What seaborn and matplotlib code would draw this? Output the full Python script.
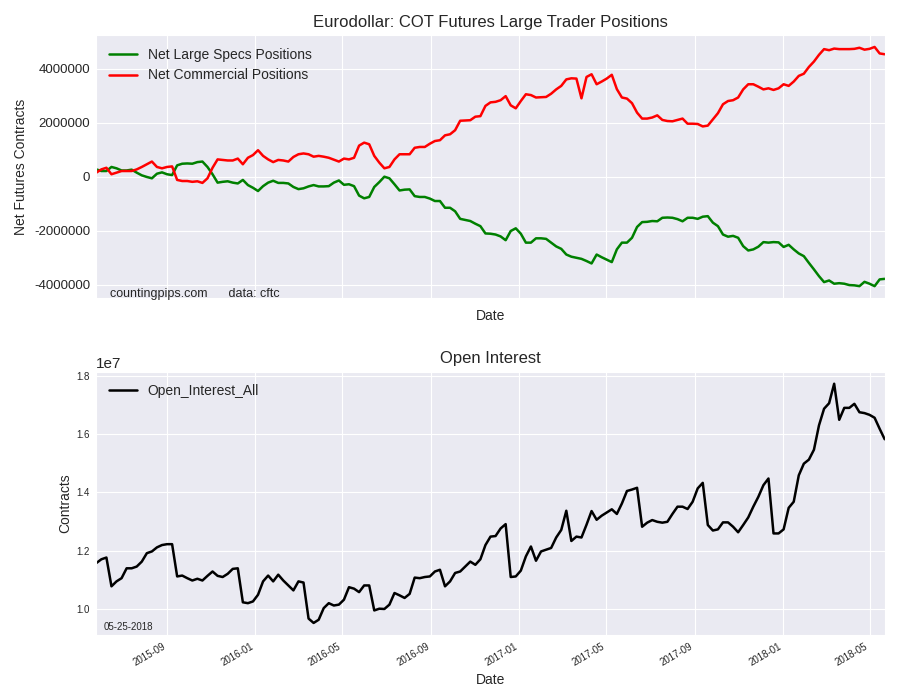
import numpy as np
import pandas as pd
import seaborn as sns
import matplotlib
matplotlib.use('Agg')
import matplotlib.pyplot as plt
import matplotlib.dates as mdates

# weekly COT report dates (tuesdays)
dates = pd.date_range('2015-05-26', periods=157, freq='7D')

# net positions, millions of contracts
specs_mm = [0.27, 0.21, 0.21, 0.36, 0.31, 0.23, 0.23, 0.26, 0.15, 0.05, -0.01, -0.06, 0.11, 0.16, 0.09, 0.06,
            0.42, 0.48, 0.49, 0.48, 0.54, 0.56, 0.36, 0.09, -0.22, -0.19, -0.17,
            -0.22, -0.25, -0.12, -0.31, -0.41, -0.53, -0.35, -0.22, -0.15, -0.23, -0.23, -0.25, -0.38, -0.46,
            -0.43, -0.36, -0.31, -0.36, -0.36, -0.35, -0.22, -0.14, -0.30, -0.28, -0.35, -0.70,
            -0.80, -0.75, -0.38, -0.20, 0.00, -0.06, -0.28, -0.51, -0.48, -0.47, -0.72, -0.75, -0.75, -0.81,
            -0.90, -0.90, -1.15, -1.15, -1.28, -1.56, -1.60, -1.64, -1.74, -1.83, -2.10, -2.11,
            -2.14, -2.21, -2.35, -2.01, -1.91, -2.11, -2.44, -2.44, -2.28, -2.28, -2.30, -2.44, -2.58, -2.67,
            -2.88, -2.96, -3.00, -3.04, -3.12, -3.21, -2.88, -2.98, -3.07, -3.16, -2.69, -2.44,
            -2.44, -2.26, -1.86, -1.68, -1.67, -1.64, -1.65, -1.52, -1.51, -1.52, -1.57, -1.65, -1.52, -1.52,
            -1.56, -1.48, -1.46, -1.70, -1.83, -2.14, -2.22, -2.19, -2.26, -2.57, -2.73, -2.69,
            -2.59, -2.42, -2.44, -2.42, -2.43, -2.60, -2.52, -2.69, -2.84, -2.94, -3.19, -3.43, -3.68, -3.90,
            -3.84, -3.96, -3.94, -3.96, -4.01, -4.02, -4.05, -3.89, -3.96, -4.05, -3.80, -3.78]

comm_mm = [0.15, 0.27, 0.33, 0.09, 0.15, 0.21, 0.21, 0.21, 0.27, 0.36, 0.46, 0.56, 0.36, 0.31, 0.36, 0.38,
           -0.12, -0.16, -0.16, -0.19, -0.17, -0.23, -0.06, 0.33, 0.64, 0.62, 0.60,
           0.60, 0.67, 0.46, 0.70, 0.80, 0.98, 0.77, 0.64, 0.54, 0.62, 0.60, 0.56, 0.73, 0.83,
           0.86, 0.83, 0.74, 0.77, 0.74, 0.70, 0.63, 0.56, 0.67, 0.64, 0.70, 1.15,
           1.26, 1.20, 0.77, 0.52, 0.31, 0.36, 0.64, 0.83, 0.83, 0.83, 1.07, 1.10, 1.10, 1.22,
           1.32, 1.35, 1.53, 1.57, 1.72, 2.07, 2.08, 2.09, 2.22, 2.24, 2.62, 2.75,
           2.77, 2.83, 2.98, 2.64, 2.53, 2.80, 3.05, 3.02, 2.93, 2.94, 2.95, 3.07, 3.23, 3.36,
           3.60, 3.64, 3.63, 2.90, 3.69, 3.79, 3.42, 3.52, 3.63, 3.77, 3.24, 2.93,
           2.89, 2.72, 2.37, 2.15, 2.15, 2.19, 2.27, 2.10, 2.06, 2.05, 2.10, 2.15, 1.96, 1.96,
           1.95, 1.86, 1.89, 2.12, 2.35, 2.68, 2.80, 2.83, 2.93, 3.23, 3.42, 3.42,
           3.33, 3.23, 3.27, 3.21, 3.27, 3.42, 3.36, 3.52, 3.73, 3.81, 4.06, 4.26, 4.51, 4.72,
           4.68, 4.74, 4.72, 4.72, 4.72, 4.73, 4.77, 4.70, 4.73, 4.80, 4.56, 4.53]

# open interest, units of 1e7
oi_1e7 = [1.157, 1.170, 1.176, 1.077, 1.094, 1.105, 1.139, 1.139, 1.145, 1.162, 1.191, 1.197, 1.211, 1.219,
          1.222, 1.222, 1.111, 1.114, 1.105, 1.097, 1.103, 1.097, 1.113, 1.128, 1.113, 1.109, 1.120, 1.137,
          1.139, 1.022, 1.019, 1.025, 1.048, 1.094, 1.114, 1.094, 1.117, 1.097, 1.080, 1.063, 1.094, 1.090,
          0.966, 0.951, 0.962, 1.002, 1.019, 1.011, 1.014, 1.031, 1.074, 1.069, 1.057, 1.080, 1.080, 0.994,
          1.000, 0.999, 1.014, 1.054, 1.046, 1.037, 1.051, 1.107, 1.105, 1.109, 1.111, 1.128, 1.134, 1.077,
          1.094, 1.123, 1.128, 1.145, 1.162, 1.151, 1.170, 1.219,
          1.248, 1.250, 1.276, 1.291, 1.109, 1.111, 1.131, 1.180, 1.214, 1.165, 1.197, 1.203, 1.209, 1.245,
          1.271, 1.337, 1.233, 1.248, 1.245, 1.289, 1.336, 1.306, 1.320, 1.331, 1.342, 1.326, 1.362, 1.405,
          1.410, 1.416, 1.282, 1.296, 1.305, 1.299, 1.296, 1.299, 1.326, 1.351, 1.351, 1.343, 1.368, 1.414,
          1.433, 1.288, 1.269, 1.273, 1.297, 1.297, 1.282, 1.263, 1.288, 1.314, 1.351, 1.385, 1.425, 1.448,
          1.259, 1.259, 1.273, 1.347, 1.368, 1.459, 1.499, 1.513, 1.547, 1.631, 1.688, 1.707, 1.774, 1.650,
          1.691, 1.691, 1.705, 1.676, 1.673, 1.667, 1.657, 1.619, 1.583]

df = pd.DataFrame({
    'Date': dates,
    'specs': np.array(specs_mm) * 1e6,
    'comm': np.array(comm_mm) * 1e6,
    'Open_Interest_All': np.array(oi_1e7) * 1e7,
})

sns.set_style('darkgrid')
plt.rcParams['font.family'] = ['Liberation Sans', 'DejaVu Sans']
plt.rcParams['axes.unicode_minus'] = False

fig, (ax1, ax2) = plt.subplots(2, 1, figsize=(9, 7), dpi=100)
fig.subplots_adjust(left=0.107, right=0.983, top=0.95, bottom=0.093, hspace=0.28)

# top: net positions
sns.lineplot(data=df, x='Date', y='specs', color='green', linewidth=1.8,
             label='Net Large Specs Positions', ax=ax1)
sns.lineplot(data=df, x='Date', y='comm', color='red', linewidth=1.8,
             label='Net Commercial Positions', ax=ax1)
ax1.set_title('Eurodollar: COT Futures Large Trader Positions', fontsize=12)
ax1.set_xlabel('Date', fontsize=10, labelpad=7.5)
ax1.set_ylabel('Net Futures Contracts', fontsize=10, labelpad=4.5)
ax1.ticklabel_format(axis='y', style='plain')
ax1.tick_params(axis='y', labelsize=9.5)
ax1.legend(loc='upper left', fontsize=10, frameon=False)
ax1.text(0.018, 0.005, 'countingpips.com      data: cftc', transform=ax1.transAxes, fontsize=9)

# bottom: open interest
sns.lineplot(data=df, x='Date', y='Open_Interest_All', color='black', linewidth=1.8,
             label='Open_Interest_All', ax=ax2)
ax2.set_title('Open Interest', fontsize=12)
ax2.set_xlabel('Date', fontsize=10)
ax2.set_ylabel('Contracts', fontsize=10, labelpad=3)
ax2.tick_params(labelsize=7)
ax2.yaxis.get_offset_text().set_fontsize(11)
ax2.legend(loc='upper left', fontsize=10, frameon=False)
ax2.text(0.009, 0.02, '05-25-2018', transform=ax2.transAxes, fontsize=7)

for ax in (ax1, ax2):
    ax.xaxis.set_major_locator(mdates.MonthLocator(bymonth=[1, 5, 9]))
    ax.xaxis.set_major_formatter(mdates.DateFormatter('%Y-%m'))
    ax.set_xlim(dates[0], dates[-1])
    ax.tick_params(length=0, pad=4.5)
plt.setp(ax2.get_xticklabels(), rotation=30, ha='right')
ax1.tick_params(axis='x', labelbottom=False)

fig.savefig('out.png', dpi=100)
